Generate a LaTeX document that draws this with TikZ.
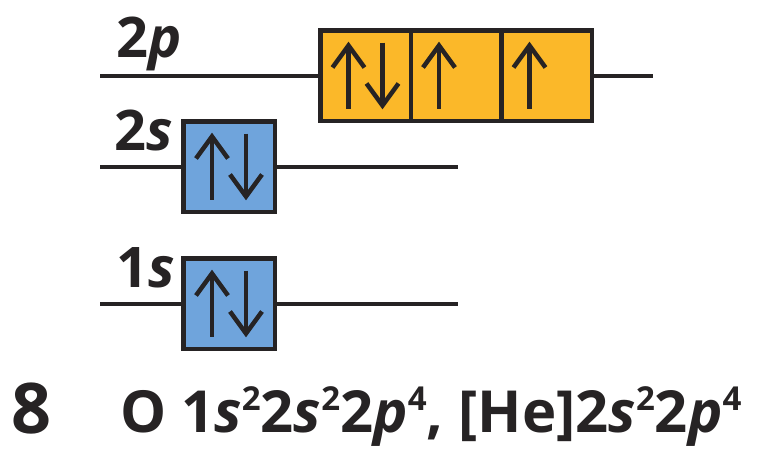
\documentclass[tikz,border=0pt]{standalone}
\usepackage{fontspec}
\setmainfont{Open Sans}
\usetikzlibrary{calc}
\definecolor{ink}{HTML}{262324}
\definecolor{orb}{HTML}{FBB829}
\definecolor{sblue}{HTML}{6FA4DC}
\tikzset{
 level/.style={draw=ink, line width=4pt},
 sbox/.style={draw=ink, fill=sblue, line width=4.5pt, minimum width=91.5pt, minimum height=90.5pt, inner sep=0pt, outer sep=0pt},
 pbox/.style={draw=ink, fill=orb, line width=4.5pt, minimum width=90.5pt, minimum height=90.5pt, inner sep=0pt, outer sep=0pt},
 spin/.style={draw=ink, line width=4.5pt, line cap=butt, line join=miter},
 lbl/.style={text=ink, inner sep=0pt, anchor=base west, font=\fontsize{56}{56}\selectfont\bfseries},
 cfgtext/.style={text=ink, inner sep=0pt, anchor=base west, font=\fontsize{58}{58}\selectfont\bfseries},
}
\newcommand\SpinUp[2]{%
 \draw[spin] ($(#1)+(#2,33)$) -- ($(#1)+(#2,-30)$);
 \draw[spin] ($(#1)+(#2-16,-8)$) -- ($(#1)+(#2,-30)$) -- ($(#1)+(#2+16,-8)$);}
\newcommand\SpinDown[2]{%
 \draw[spin] ($(#1)+(#2,-33)$) -- ($(#1)+(#2,30)$);
 \draw[spin] ($(#1)+(#2-16,8)$) -- ($(#1)+(#2,30)$) -- ($(#1)+(#2+16,8)$);}
\newcommand\SupNum[1]{\raisebox{22pt}{\fontsize{33}{33}\selectfont #1}}
\begin{document}
\begin{tikzpicture}[x=1pt,y=-1pt]
\useasboundingbox (0,0) rectangle (764,458);
% level line end points
\coordinate (l2pa) at (100,75.5);
\coordinate (l2pb) at (653,75.5);
\coordinate (l2sa) at (100,166.5);
\coordinate (l2sb) at (458,166.5);
\coordinate (l1sa) at (100,303.5);
\coordinate (l1sb) at (458,303.5);
% boxes
\node[pbox] (p1) at (365.5,75.5) {};
\node[pbox] (p2) at (456,75.5) {};
\node[pbox] (p3) at (546.5,75.5) {};
\node[sbox] (s2) at (229,166.5) {};
\node[sbox] (s1) at (229,303.5) {};
% level lines
\draw[level] (l2pa) -- (p1.west);
\draw[level] (p3.east) -- (l2pb);
\draw[level] (l2sa) -- (s2.west);
\draw[level] (s2.east) -- (l2sb);
\draw[level] (l1sa) -- (s1.west);
\draw[level] (s1.east) -- (l1sb);
% spins
\SpinUp{p1}{-17}\SpinDown{p1}{17}
\SpinUp{p2}{-17}
\SpinUp{p3}{-17}
\SpinUp{s2}{-17}\SpinDown{s2}{17}
\SpinUp{s1}{-17}\SpinDown{s1}{17}
% labels
\node[lbl] (t2p) at (116,57) {2\textit{p}};
\node[lbl] (t2s) at (114,150) {2\textit{s}};
\node[lbl] (t1s) at (116,287) {1\textit{s}};
% configuration
\node[text=ink, inner sep=0pt, anchor=base west, font=\fontsize{70}{70}\selectfont\bfseries] (num) at (11,433) {8};
\node[cfgtext] (cfg) at (120,432) {O 1\textit{s}\SupNum{2}2\textit{s}\SupNum{2}2\textit{p}\SupNum{4}, [He]2\textit{s}\SupNum{2}2\textit{p}\SupNum{4}};
\end{tikzpicture}
\end{document}
